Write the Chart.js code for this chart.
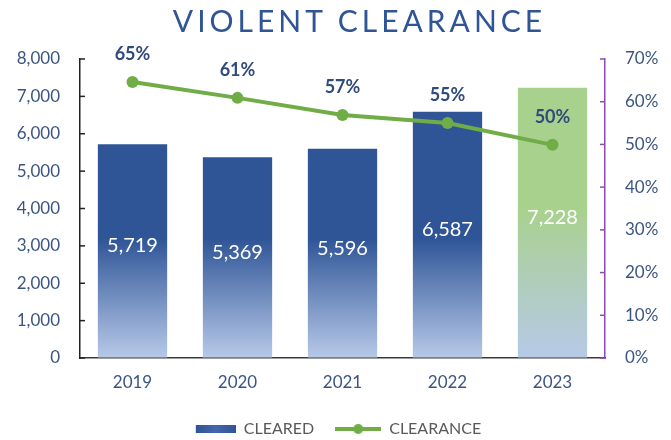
<!DOCTYPE html>
<html>
<head>
<meta charset="utf-8">
<script src="https://cdn.jsdelivr.net/npm/chart.js@4.4.1/dist/chart.umd.min.js"></script>
<style>
  html, body { margin: 0; padding: 0; background: #fff; }
  #wrap { position: relative; width: 671px; height: 440px; }
  #title {
    position: absolute; top: 4px; left: 0; width: 671px; box-sizing: border-box;
    padding-left: 48px; text-align: center;
    font: 400 30px/32px 'Lato', sans-serif; letter-spacing: 4px; color: #2f5597;
  }
  canvas { display: block; }
</style>
</head>
<body>
<div id="wrap">
  <div id="title">VIOLENT CLEARANCE</div>
  <canvas id="chart" width="671" height="440"></canvas>
</div>
<script>
const years = ['2019', '2020', '2021', '2022', '2023'];
const cleared = [5719, 5369, 5596, 6587, 7228];
const clearanceRate = [64.6, 60.9, 56.9, 55.0, 49.9]; // percent

const tickColor = '#3b5583';
const purple = '#8a48b8';
const green = '#70ad47';

// top colour of each bar, all fade to light blue at the bottom
const barTop = ['#2f5597', '#2f5597', '#2f5597', '#2f5597', '#a9d18e'];

function barFill(chart, i) {
  const area = chart.chartArea;
  if (!area) return barTop[i];
  const g = chart.ctx.createLinearGradient(0, area.top, 0, area.bottom);
  g.addColorStop(0, barTop[i]);
  g.addColorStop(i === 4 ? 0.5 : 0.6, barTop[i]);
  g.addColorStop(1, '#b7c9e8');
  return g;
}

function barSwatch() {
  const c = document.createElement('canvas');
  c.width = 46; c.height = 8;
  const x = c.getContext('2d');
  const g = x.createLinearGradient(6, 0, 46, 0);
  g.addColorStop(0, '#2f5597');
  g.addColorStop(0.5, '#4466aa');
  g.addColorStop(1, '#2f5597');
  x.fillStyle = g;
  x.fillRect(6, 0, 40, 8);
  return c;
}

function lineSwatch() {
  const c = document.createElement('canvas');
  c.width = 46; c.height = 12;
  const x = c.getContext('2d');
  x.strokeStyle = green; x.lineWidth = 4;
  x.beginPath(); x.moveTo(0, 6); x.lineTo(46, 6); x.stroke();
  x.fillStyle = green;
  x.beginPath(); x.arc(23, 6, 5, 0, Math.PI * 2); x.fill();
  return c;
}

// tick marks drawn inward from both value axes
const innerTicks = {
  id: 'innerTicks',
  afterDraw(chart) {
    const ctx = chart.ctx;
    [['y', 1, '#222'], ['y1', -1, purple]].forEach(([id, dir, color]) => {
      const s = chart.scales[id];
      const x0 = id === 'y' ? s.right : s.left;
      ctx.save();
      ctx.strokeStyle = color;
      ctx.lineWidth = 1.5;
      s.ticks.forEach(t => {
        const y = s.getPixelForValue(t.value);
        ctx.beginPath();
        ctx.moveTo(x0, y);
        ctx.lineTo(x0 + dir * 5, y);
        ctx.stroke();
      });
      ctx.restore();
    });
  }
};

// value labels: counts inside bars, rates above points
const valueLabels = {
  id: 'valueLabels',
  afterDatasetsDraw(chart) {
    const ctx = chart.ctx;
    ctx.save();
    ctx.textAlign = 'center';
    ctx.textBaseline = 'middle';
    ctx.font = '20px Lato';
    ctx.fillStyle = '#ffffff';
    chart.getDatasetMeta(0).data.forEach((b, i) => {
      ctx.fillText(cleared[i].toLocaleString('en-US'), b.x, (b.y + b.base) / 2 - 5);
    });
    ctx.font = 'bold 18px Lato';
    ctx.fillStyle = '#2f4b7c';
    chart.getDatasetMeta(1).data.forEach((p, i) => {
      ctx.fillText(Math.round(clearanceRate[i]) + '%', p.x, p.y - 28);
    });
    ctx.restore();
  }
};

Chart.defaults.font.family = 'Lato';

new Chart(document.getElementById('chart'), {
  type: 'bar',
  data: {
    labels: years,
    datasets: [
      {
        label: 'CLEARED',
        data: cleared,
        yAxisID: 'y',
        backgroundColor: c => barFill(c.chart, c.dataIndex),
        barPercentage: 0.66,
        categoryPercentage: 1,
        order: 1
      },
      {
        type: 'line',
        label: 'CLEARANCE',
        data: clearanceRate,
        yAxisID: 'y1',
        borderColor: green,
        backgroundColor: green,
        borderWidth: 4,
        pointRadius: 6,
        pointBorderWidth: 0,
        tension: 0,
        order: 0
      }
    ]
  },
  options: {
    responsive: false,
    animation: false,
    layout: { padding: { top: 59, bottom: -7, left: 0, right: 0 } },
    plugins: {
      tooltip: { enabled: false },
      legend: {
        position: 'bottom',
        labels: {
          usePointStyle: true,
          pointStyleWidth: 46,
          padding: 21,
          color: '#595959',
          font: { size: 16 },
          generateLabels: () => [
            { text: 'CLEARED', pointStyle: barSwatch(), fontColor: '#595959', lineWidth: 0, strokeStyle: 'rgba(0,0,0,0)', fillStyle: 'rgba(0,0,0,0)', datasetIndex: 0 },
            { text: 'CLEARANCE', pointStyle: lineSwatch(), fontColor: '#595959', lineWidth: 0, strokeStyle: 'rgba(0,0,0,0)', fillStyle: 'rgba(0,0,0,0)', datasetIndex: 1 }
          ]
        }
      }
    },
    scales: {
      x: {
        grid: { display: true, drawOnChartArea: false, drawTicks: false },
        border: { display: true, color: '#3a3a3a', width: 1.5 },
        ticks: { color: tickColor, font: { size: 17 }, padding: 14 },
        afterFit: s => { s.height = 42; }
      },
      y: {
        position: 'left',
        min: 0,
        max: 8000,
        grid: { display: true, drawOnChartArea: false, drawTicks: false },
        border: { display: true, color: '#222', width: 1.5 },
        ticks: {
          stepSize: 1000,
          padding: 20,
          color: tickColor,
          font: { size: 17 },
          callback: v => v.toLocaleString('en-US')
        },
        afterFit: s => { s.width = 80; }
      },
      y1: {
        position: 'right',
        min: 0,
        max: 70,
        grid: { display: true, drawOnChartArea: false, drawTicks: false },
        border: { display: true, color: purple, width: 1.5 },
        ticks: {
          stepSize: 10,
          padding: 20,
          color: tickColor,
          font: { size: 17 },
          callback: v => v + '%'
        },
        afterFit: s => { s.width = 66; }
      }
    }
  },
  plugins: [innerTicks, valueLabels]
});
</script>
</body>
</html>
